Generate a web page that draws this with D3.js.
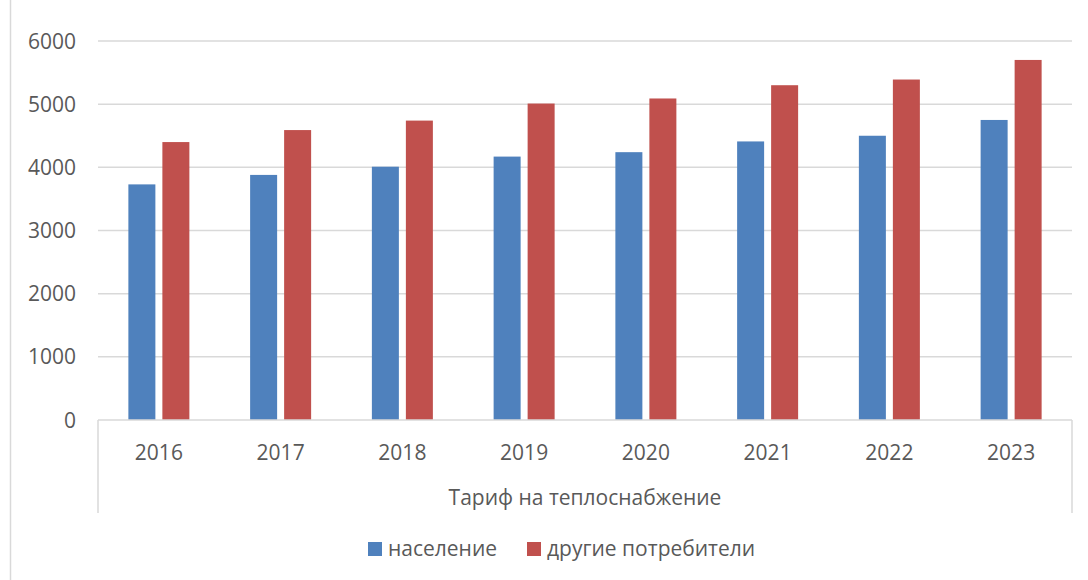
<!DOCTYPE html>
<html>
<head>
<meta charset="utf-8">
<script src="https://cdn.jsdelivr.net/npm/d3@7"></script>
<style>
  body { margin: 0; background: #fff; }
  svg { display: block; }
</style>
</head>
<body>
<div id="chart"></div>
<script>
const years = ["2016", "2017", "2018", "2019", "2020", "2021", "2022", "2023"];
const seriesNames = ["население", "другие потребители"];
const population = [3730, 3880, 4010, 4170, 4240, 4410, 4500, 4750];
const others = [4400, 4590, 4740, 5010, 5090, 5300, 5390, 5700];
const yTicks = [0, 1000, 2000, 3000, 4000, 5000, 6000];
const axisTitle = "Тариф на теплоснабжение";
const colors = ["#4f81bd", "#c0504d"];

const W = 1088, H = 580;
const font = "'Open Sans', 'Noto Sans', sans-serif";
const fontSize = "21px";
const textColor = "#595959";
const gridColor = "#d9d9d9";

const plot = { left: 98, right: 1072, top: 41, bottom: 420 };

const svg = d3.select("#chart").append("svg")
  .attr("width", W)
  .attr("height", H);

// chart area border (only left edge shows)
svg.append("rect")
  .attr("x", 10.5).attr("y", -5)
  .attr("width", W + 10).attr("height", H + 10)
  .attr("fill", "none")
  .attr("stroke", gridColor)
  .attr("stroke-width", 1.5);

const x0 = d3.scaleBand()
  .domain(years)
  .range([plot.left, plot.right]);

const groupW = 61;
const x1 = d3.scaleBand()
  .domain(seriesNames)
  .range([x0.bandwidth() / 2 - groupW / 2, x0.bandwidth() / 2 + groupW / 2])
  .paddingInner(7 / 34);

const y = d3.scaleLinear()
  .domain([0, 6000])
  .range([plot.bottom, plot.top]);

// gridlines
svg.append("g")
  .selectAll("line")
  .data(yTicks.filter(d => d > 0))
  .enter()
  .append("line")
  .attr("x1", plot.left)
  .attr("x2", plot.right)
  .attr("y1", d => y(d))
  .attr("y2", d => y(d))
  .attr("stroke", gridColor)
  .attr("stroke-width", 1.5);

// y labels
svg.append("g")
  .selectAll("text")
  .data(yTicks)
  .enter()
  .append("text")
  .attr("x", 76)
  .attr("y", d => y(d) + 7.5)
  .attr("text-anchor", "end")
  .text(d => d)
  .style("fill", textColor)
  .style("font-family", font)
  .style("font-size", fontSize);

// bars
const table = years.map((yr, i) => ({ year: yr, values: [population[i], others[i]] }));

const groups = svg.append("g")
  .selectAll("g")
  .data(table)
  .enter()
  .append("g")
  .attr("transform", d => `translate(${x0(d.year)},0)`);

groups.selectAll("rect")
  .data(d => d.values.map((v, k) => ({ name: seriesNames[k], value: v, k: k })))
  .enter()
  .append("rect")
  .attr("x", d => x1(d.name))
  .attr("width", x1.bandwidth())
  .attr("y", d => y(d.value))
  .attr("height", d => y(0) - y(d.value))
  .attr("fill", d => colors[d.k]);

// x axis line + outer ticks
const axisG = svg.append("g")
  .attr("stroke", gridColor)
  .attr("stroke-width", 1.5);
axisG.append("line")
  .attr("x1", plot.left).attr("x2", plot.right)
  .attr("y1", plot.bottom).attr("y2", plot.bottom);
axisG.append("line")
  .attr("x1", plot.left).attr("x2", plot.left)
  .attr("y1", plot.bottom).attr("y2", 513);
axisG.append("line")
  .attr("x1", plot.right).attr("x2", plot.right)
  .attr("y1", plot.bottom).attr("y2", 513);

// category labels
svg.append("g")
  .selectAll("text")
  .data(years)
  .enter()
  .append("text")
  .attr("x", d => x0(d) + x0.bandwidth() / 2)
  .attr("y", 460)
  .attr("text-anchor", "middle")
  .text(d => d)
  .style("fill", textColor)
  .style("font-family", font)
  .style("font-size", fontSize);

// axis title
svg.append("text")
  .attr("x", (plot.left + plot.right) / 2)
  .attr("y", 505)
  .attr("text-anchor", "middle")
  .text(axisTitle)
  .style("fill", textColor)
  .style("font-family", font)
  .style("font-size", fontSize);

// legend
const legendX = [368, 527];
const legend = svg.append("g")
  .selectAll("g")
  .data(seriesNames)
  .enter()
  .append("g")
  .attr("transform", (d, i) => `translate(${legendX[i]},542)`);

legend.append("rect")
  .attr("width", 14)
  .attr("height", 14)
  .attr("fill", (d, i) => colors[i]);

legend.append("text")
  .attr("x", 20)
  .attr("y", 14)
  .text(d => d)
  .style("fill", textColor)
  .style("font-family", font)
  .style("font-size", fontSize);
</script>
</body>
</html>
